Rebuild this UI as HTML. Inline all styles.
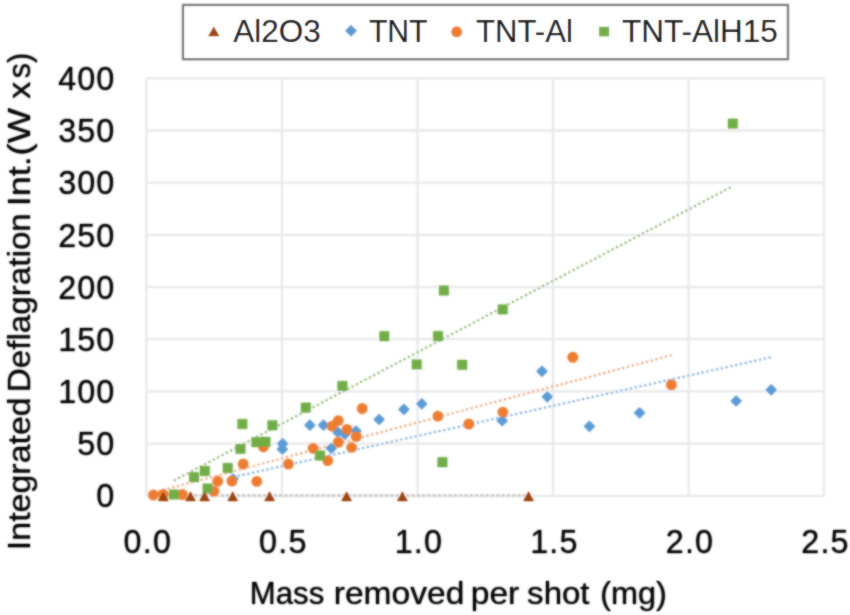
<!DOCTYPE html><html><head><meta charset="utf-8"><style>html,body{margin:0;padding:0;background:#fff;}svg{display:block;} #wrap{width:850px;height:615px;} text{font-family:"Liberation Sans",sans-serif;fill:#000000;}</style></head><body>
<div id="wrap">
<svg width="850" height="615" viewBox="0 0 850 615">
<rect width="850" height="615" fill="#fff"/>
<defs><filter id="bl" filterUnits="userSpaceOnUse" x="0" y="0" width="850" height="615"><feGaussianBlur stdDeviation="0.8"/></filter><g id="all">
<path d="M146.4 495.8H824.1M146.4 443.6H824.1M146.4 391.4H824.1M146.4 339.2H824.1M146.4 287.1H824.1M146.4 234.9H824.1M146.4 182.7H824.1M146.4 130.5H824.1M146.4 78.3H824.1M146.4 78.3V495.8M281.9 78.3V495.8M417.5 78.3V495.8M553.0 78.3V495.8M688.6 78.3V495.8M824.1 78.3V495.8" stroke="#e8e8e8" stroke-width="1.8" fill="none"/>
<line x1="162.5" y1="495.5" x2="528.6" y2="495.5" stroke="#c6c0bc" stroke-width="2.0" stroke-dasharray="3 2.3" opacity="1.00"/>
<line x1="233.0" y1="477.1" x2="771.2" y2="357.2" stroke="#8DB6E0" stroke-width="2.0" stroke-dasharray="2 2.9" opacity="1.00"/>
<line x1="153.4" y1="492.5" x2="671.4" y2="355.2" stroke="#EFAE86" stroke-width="2.0" stroke-dasharray="2 2.9" opacity="1.00"/>
<line x1="173.9" y1="480.6" x2="732.8" y2="186.1" stroke="#98BE84" stroke-width="2.0" stroke-dasharray="2 2.9" opacity="1.00"/>
<path d="M233.0 473.4l5.6 5.6l-5.6 5.6l-5.6 -5.6z" fill="#5B9BD5"/>
<path d="M282.6 438.1l5.6 5.6l-5.6 5.6l-5.6 -5.6z" fill="#5B9BD5"/>
<path d="M282.4 443.6l5.6 5.6l-5.6 5.6l-5.6 -5.6z" fill="#5B9BD5"/>
<path d="M309.9 419.6l5.6 5.6l-5.6 5.6l-5.6 -5.6z" fill="#5B9BD5"/>
<path d="M323.5 419.6l5.6 5.6l-5.6 5.6l-5.6 -5.6z" fill="#5B9BD5"/>
<path d="M331.3 442.7l5.6 5.6l-5.6 5.6l-5.6 -5.6z" fill="#5B9BD5"/>
<path d="M337.9 426.6l5.6 5.6l-5.6 5.6l-5.6 -5.6z" fill="#5B9BD5"/>
<path d="M344.9 428.7l5.6 5.6l-5.6 5.6l-5.6 -5.6z" fill="#5B9BD5"/>
<path d="M356.0 425.4l5.6 5.6l-5.6 5.6l-5.6 -5.6z" fill="#5B9BD5"/>
<path d="M379.1 413.9l5.6 5.6l-5.6 5.6l-5.6 -5.6z" fill="#5B9BD5"/>
<path d="M403.9 403.7l5.6 5.6l-5.6 5.6l-5.6 -5.6z" fill="#5B9BD5"/>
<path d="M421.7 398.2l5.6 5.6l-5.6 5.6l-5.6 -5.6z" fill="#5B9BD5"/>
<path d="M502.2 415.1l5.6 5.6l-5.6 5.6l-5.6 -5.6z" fill="#5B9BD5"/>
<path d="M542.0 365.7l5.6 5.6l-5.6 5.6l-5.6 -5.6z" fill="#5B9BD5"/>
<path d="M547.3 391.2l5.6 5.6l-5.6 5.6l-5.6 -5.6z" fill="#5B9BD5"/>
<path d="M589.4 420.7l5.6 5.6l-5.6 5.6l-5.6 -5.6z" fill="#5B9BD5"/>
<path d="M639.6 407.2l5.6 5.6l-5.6 5.6l-5.6 -5.6z" fill="#5B9BD5"/>
<path d="M736.2 395.4l5.6 5.6l-5.6 5.6l-5.6 -5.6z" fill="#5B9BD5"/>
<path d="M771.2 384.3l5.6 5.6l-5.6 5.6l-5.6 -5.6z" fill="#5B9BD5"/>
<circle cx="153.4" cy="495.0" r="5.2" fill="#ED7D31"/>
<circle cx="163.3" cy="494.5" r="5.2" fill="#ED7D31"/>
<circle cx="182.4" cy="494.5" r="5.2" fill="#ED7D31"/>
<circle cx="213.9" cy="491.2" r="5.2" fill="#ED7D31"/>
<circle cx="217.7" cy="481.2" r="5.2" fill="#ED7D31"/>
<circle cx="232.0" cy="481.0" r="5.2" fill="#ED7D31"/>
<circle cx="243.2" cy="464.0" r="5.2" fill="#ED7D31"/>
<circle cx="256.8" cy="481.4" r="5.2" fill="#ED7D31"/>
<circle cx="263.5" cy="446.8" r="5.2" fill="#ED7D31"/>
<circle cx="288.4" cy="464.0" r="5.2" fill="#ED7D31"/>
<circle cx="313.1" cy="448.2" r="5.2" fill="#ED7D31"/>
<circle cx="327.8" cy="460.6" r="5.2" fill="#ED7D31"/>
<circle cx="332.0" cy="426.1" r="5.2" fill="#ED7D31"/>
<circle cx="338.3" cy="420.6" r="5.2" fill="#ED7D31"/>
<circle cx="347.0" cy="429.5" r="5.2" fill="#ED7D31"/>
<circle cx="356.2" cy="436.5" r="5.2" fill="#ED7D31"/>
<circle cx="338.3" cy="442.2" r="5.2" fill="#ED7D31"/>
<circle cx="351.6" cy="447.4" r="5.2" fill="#ED7D31"/>
<circle cx="362.2" cy="408.5" r="5.2" fill="#ED7D31"/>
<circle cx="437.9" cy="416.1" r="5.2" fill="#ED7D31"/>
<circle cx="468.8" cy="424.0" r="5.2" fill="#ED7D31"/>
<circle cx="502.8" cy="412.1" r="5.2" fill="#ED7D31"/>
<circle cx="572.8" cy="357.3" r="5.2" fill="#ED7D31"/>
<circle cx="671.4" cy="384.8" r="5.2" fill="#ED7D31"/>
<rect x="169.1" y="489.7" width="9.6" height="9.6" fill="#70AD47"/>
<rect x="189.3" y="472.4" width="9.6" height="9.6" fill="#70AD47"/>
<rect x="200.0" y="466.2" width="9.6" height="9.6" fill="#70AD47"/>
<rect x="202.8" y="483.7" width="9.6" height="9.6" fill="#70AD47"/>
<rect x="222.9" y="463.2" width="9.6" height="9.6" fill="#70AD47"/>
<rect x="235.7" y="444.0" width="9.6" height="9.6" fill="#70AD47"/>
<rect x="237.6" y="419.2" width="9.6" height="9.6" fill="#70AD47"/>
<rect x="251.5" y="437.4" width="9.6" height="9.6" fill="#70AD47"/>
<rect x="260.7" y="437.0" width="9.6" height="9.6" fill="#70AD47"/>
<rect x="267.6" y="420.5" width="9.6" height="9.6" fill="#70AD47"/>
<rect x="301.0" y="402.8" width="9.6" height="9.6" fill="#70AD47"/>
<rect x="315.2" y="450.7" width="9.6" height="9.6" fill="#70AD47"/>
<rect x="337.6" y="381.2" width="9.6" height="9.6" fill="#70AD47"/>
<rect x="379.5" y="331.4" width="9.6" height="9.6" fill="#70AD47"/>
<rect x="411.9" y="359.6" width="9.6" height="9.6" fill="#70AD47"/>
<rect x="433.2" y="331.3" width="9.6" height="9.6" fill="#70AD47"/>
<rect x="439.1" y="285.7" width="9.6" height="9.6" fill="#70AD47"/>
<rect x="457.4" y="360.0" width="9.6" height="9.6" fill="#70AD47"/>
<rect x="437.6" y="457.4" width="9.6" height="9.6" fill="#70AD47"/>
<rect x="497.9" y="304.6" width="9.6" height="9.6" fill="#70AD47"/>
<rect x="728.0" y="118.8" width="9.6" height="9.6" fill="#70AD47"/>
<path d="M163.3 491.4L168.5 501.0H158.1z" fill="#9C430B"/>
<path d="M190.5 491.4L195.7 501.0H185.3z" fill="#9C430B"/>
<path d="M204.6 491.4L209.8 501.0H199.4z" fill="#9C430B"/>
<path d="M232.7 491.4L237.9 501.0H227.5z" fill="#9C430B"/>
<path d="M269.6 491.4L274.8 501.0H264.4z" fill="#9C430B"/>
<path d="M346.6 491.4L351.8 501.0H341.4z" fill="#9C430B"/>
<path d="M402.4 491.4L407.6 501.0H397.2z" fill="#9C430B"/>
<path d="M528.6 491.4L533.8 501.0H523.4z" fill="#9C430B"/>
<text x="115.2" y="507.4" font-size="32.3" text-anchor="end" letter-spacing="1">0</text>
<text x="115.2" y="455.2" font-size="32.3" text-anchor="end" letter-spacing="1">50</text>
<text x="115.2" y="403.0" font-size="32.3" text-anchor="end" letter-spacing="1">100</text>
<text x="115.2" y="350.8" font-size="32.3" text-anchor="end" letter-spacing="1">150</text>
<text x="115.2" y="298.7" font-size="32.3" text-anchor="end" letter-spacing="1">200</text>
<text x="115.2" y="246.5" font-size="32.3" text-anchor="end" letter-spacing="1">250</text>
<text x="115.2" y="194.3" font-size="32.3" text-anchor="end" letter-spacing="1">300</text>
<text x="115.2" y="142.1" font-size="32.3" text-anchor="end" letter-spacing="1">350</text>
<text x="115.2" y="89.9" font-size="32.3" text-anchor="end" letter-spacing="1">400</text>
<text x="147.8" y="553.2" font-size="32.3" text-anchor="middle" letter-spacing="1.2">0.0</text>
<text x="283.3" y="553.2" font-size="32.3" text-anchor="middle" letter-spacing="1.2">0.5</text>
<text x="418.9" y="553.2" font-size="32.3" text-anchor="middle" letter-spacing="1.2">1.0</text>
<text x="554.4" y="553.2" font-size="32.3" text-anchor="middle" letter-spacing="1.2">1.5</text>
<text x="690.0" y="553.2" font-size="32.3" text-anchor="middle" letter-spacing="1.2">2.0</text>
<text x="825.5" y="553.2" font-size="32.3" text-anchor="middle" letter-spacing="1.2">2.5</text>
<text x="249.81" y="603.50" font-size="31.30" textLength="74.47" lengthAdjust="spacingAndGlyphs">Mass</text>
<text x="333.75" y="603.50" font-size="31.30" textLength="130.64" lengthAdjust="spacingAndGlyphs">removed</text>
<text x="470.76" y="603.50" font-size="31.30" textLength="48.50" lengthAdjust="spacingAndGlyphs">per</text>
<text x="527.14" y="603.50" font-size="31.30" textLength="62.42" lengthAdjust="spacingAndGlyphs">shot</text>
<text x="600.33" y="603.50" font-size="31.30" textLength="66.44" lengthAdjust="spacingAndGlyphs">(mg)</text>
<text transform="translate(30.30,550.18) rotate(-90)" font-size="32.00" textLength="152.92" lengthAdjust="spacingAndGlyphs">Integrated</text>
<text transform="translate(30.30,392.21) rotate(-90)" font-size="32.00" textLength="179.02" lengthAdjust="spacingAndGlyphs">Deflagration</text>
<text transform="translate(30.30,206.17) rotate(-90)" font-size="32.00" textLength="49.94" lengthAdjust="spacingAndGlyphs">Int.</text>
<text transform="translate(30.30,155.64) rotate(-90)" font-size="32.00" textLength="47.77" lengthAdjust="spacingAndGlyphs">(W</text>
<text transform="translate(30.30,99.09) rotate(-90)" font-size="32.00" textLength="17.37" lengthAdjust="spacingAndGlyphs">x</text>
<text transform="translate(30.30,78.25) rotate(-90)" font-size="32.00" textLength="25.32" lengthAdjust="spacingAndGlyphs">s)</text>
<rect x="183.1" y="5.1" width="604.7" height="54" fill="#fff" stroke="#757575" stroke-width="2"/>
<path d="M213.8 26.6L219.5 36.3H208.1z" fill="#9C430B"/>
<path d="M351 24.8l6 6l-6 6l-6 -6z" fill="#5B9BD5"/>
<circle cx="456.7" cy="31.8" r="5.5" fill="#ED7D31"/>
<rect x="599.1" y="26.8" width="10" height="9.6" fill="#70AD47"/>
<text x="233.20" y="42.20" font-size="31.50" textLength="87.46" lengthAdjust="spacingAndGlyphs">Al2O3</text>
<text x="368.94" y="42.20" font-size="31.50" textLength="58.58" lengthAdjust="spacingAndGlyphs">TNT</text>
<text x="476.11" y="42.20" font-size="31.50" textLength="96.76" lengthAdjust="spacingAndGlyphs">TNT-Al</text>
<text x="622.00" y="42.20" font-size="31.50" textLength="155.78" lengthAdjust="spacingAndGlyphs">TNT-AlH15</text>
</g></defs><use href="#all" filter="url(#bl)"/><use href="#all" opacity="0.50"/>
</svg></div></body></html>
